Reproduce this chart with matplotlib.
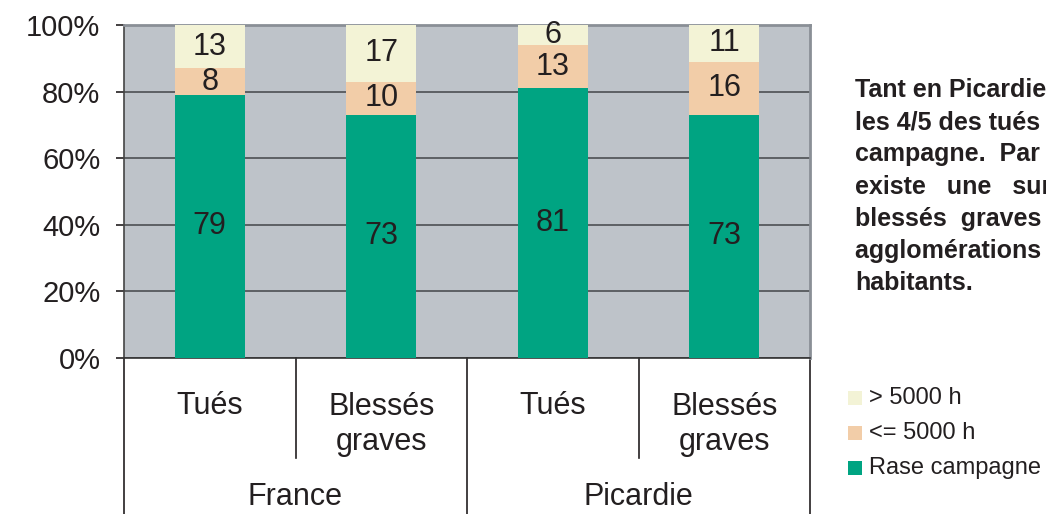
#!/usr/bin/env python3

import matplotlib
matplotlib.use('Agg')
import matplotlib.pyplot as plt
from matplotlib.patches import Rectangle
import numpy as np

plt.rcParams['font.family'] = ['Liberation Sans', 'DejaVu Sans']

# Data (percent)
categories = ['Tués', 'Blessés\ngraves', 'Tués', 'Blessés\ngraves']
groups = ['France', 'Picardie']
series_names = ['Rase campagne', '<= 5000 h', '> 5000 h']
rase = [79, 73, 81, 73]
moins5000 = [8, 10, 13, 16]
plus5000 = [13, 17, 6, 11]
colors = ['#00A482', '#F2CDA8', '#F3F3D6']

text_lines = ['Tant en Picardie qu\'en France,',
              'les 4/5 des tués le sont en rase',
              'campagne.  Par contre, il',
              'existe   une   surreprésentation',
              'blessés  graves  en',
              'agglomérations  de moins de 5000',
              'habitants.']

fig = plt.figure(figsize=(10.46, 5.14), dpi=100)
ax = fig.add_axes([124/1046, 1 - 358/514, 686/1046, 333/514])
ax.set_facecolor('#BEC3C9')

x = np.arange(len(categories))
width = 0.41
bottom = np.zeros(len(categories))
for vals, col in zip([rase, moins5000, plus5000], colors):
    bars = ax.bar(x, vals, width, bottom=bottom, color=col, zorder=3)
    ax.bar_label(bars, labels=[str(v) for v in vals], label_type='center',
                 fontsize=22, color='#231F20')
    bottom += np.array(vals)

#Axis configuration
ax.set_xlim(-0.5, len(categories) - 0.5)
ax.set_ylim(0, 100)
ax.set_yticks(np.arange(0, 101, 20))
ax.set_yticklabels(['%d%%' % v for v in range(0, 101, 20)])
ax.tick_params(axis='y', labelsize=21, length=6, width=1.2, pad=11,
               colors='#231F20', direction='out')
ax.set_xticks([])
ax.yaxis.grid(True, color='#55585c', linewidth=1.3, zorder=1)
ax.set_axisbelow(True)
for side in ['top', 'right']:
    ax.spines[side].set_color('#8A8F96')
    ax.spines[side].set_linewidth(2)
ax.spines['left'].set_color('#444444')
ax.spines['left'].set_linewidth(1.2)
ax.spines['bottom'].set_color('#333333')
ax.spines['bottom'].set_linewidth(1.2)

#Two-level category axis below the plot
tr = ax.get_xaxis_transform()
for i, lab in enumerate(categories):
    ax.text(i, -0.20 if '\n' in lab else -0.145, lab, transform=tr,
            ha='center', va='center', fontsize=22, color='#231F20',
            linespacing=1.2)
for xs in [0.5, 2.5]:
    ax.plot([xs, xs], [0, -0.30], transform=tr, color='#231F20',
            linewidth=1.2, clip_on=False)
for xs in [-0.5, 1.5, 3.5]:
    ax.plot([xs, xs], [0, -0.47], transform=tr, color='#231F20',
            linewidth=1.2, clip_on=False)
for j, g in enumerate(groups):
    ax.text(2 * j + 0.5, -0.418, g, transform=tr, ha='center', va='center',
            fontsize=22, color='#231F20')

#Side comment (cut at the figure edge as in the source)
for k, line in enumerate(text_lines):
    fig.text(855/1046, 1 - (97 + 32.2 * k)/514, line, fontsize=18,
             fontweight='bold', color='#231F20', va='baseline', ha='left')

#Legend
leg_names = series_names[::-1]
leg_colors = colors[::-1]
for k, (name, col) in enumerate(zip(leg_names, leg_colors)):
    yc = 1 - (398 + 35 * k)/514
    fig.patches.append(Rectangle((848/1046, yc - 7/514), 14/1046, 14/514,
                                 transform=fig.transFigure, facecolor=col,
                                 edgecolor='none'))
    fig.text(869/1046, yc, name, fontsize=17, color='#231F20',
             va='center', ha='left')

plt.savefig('out.png', dpi=100)
